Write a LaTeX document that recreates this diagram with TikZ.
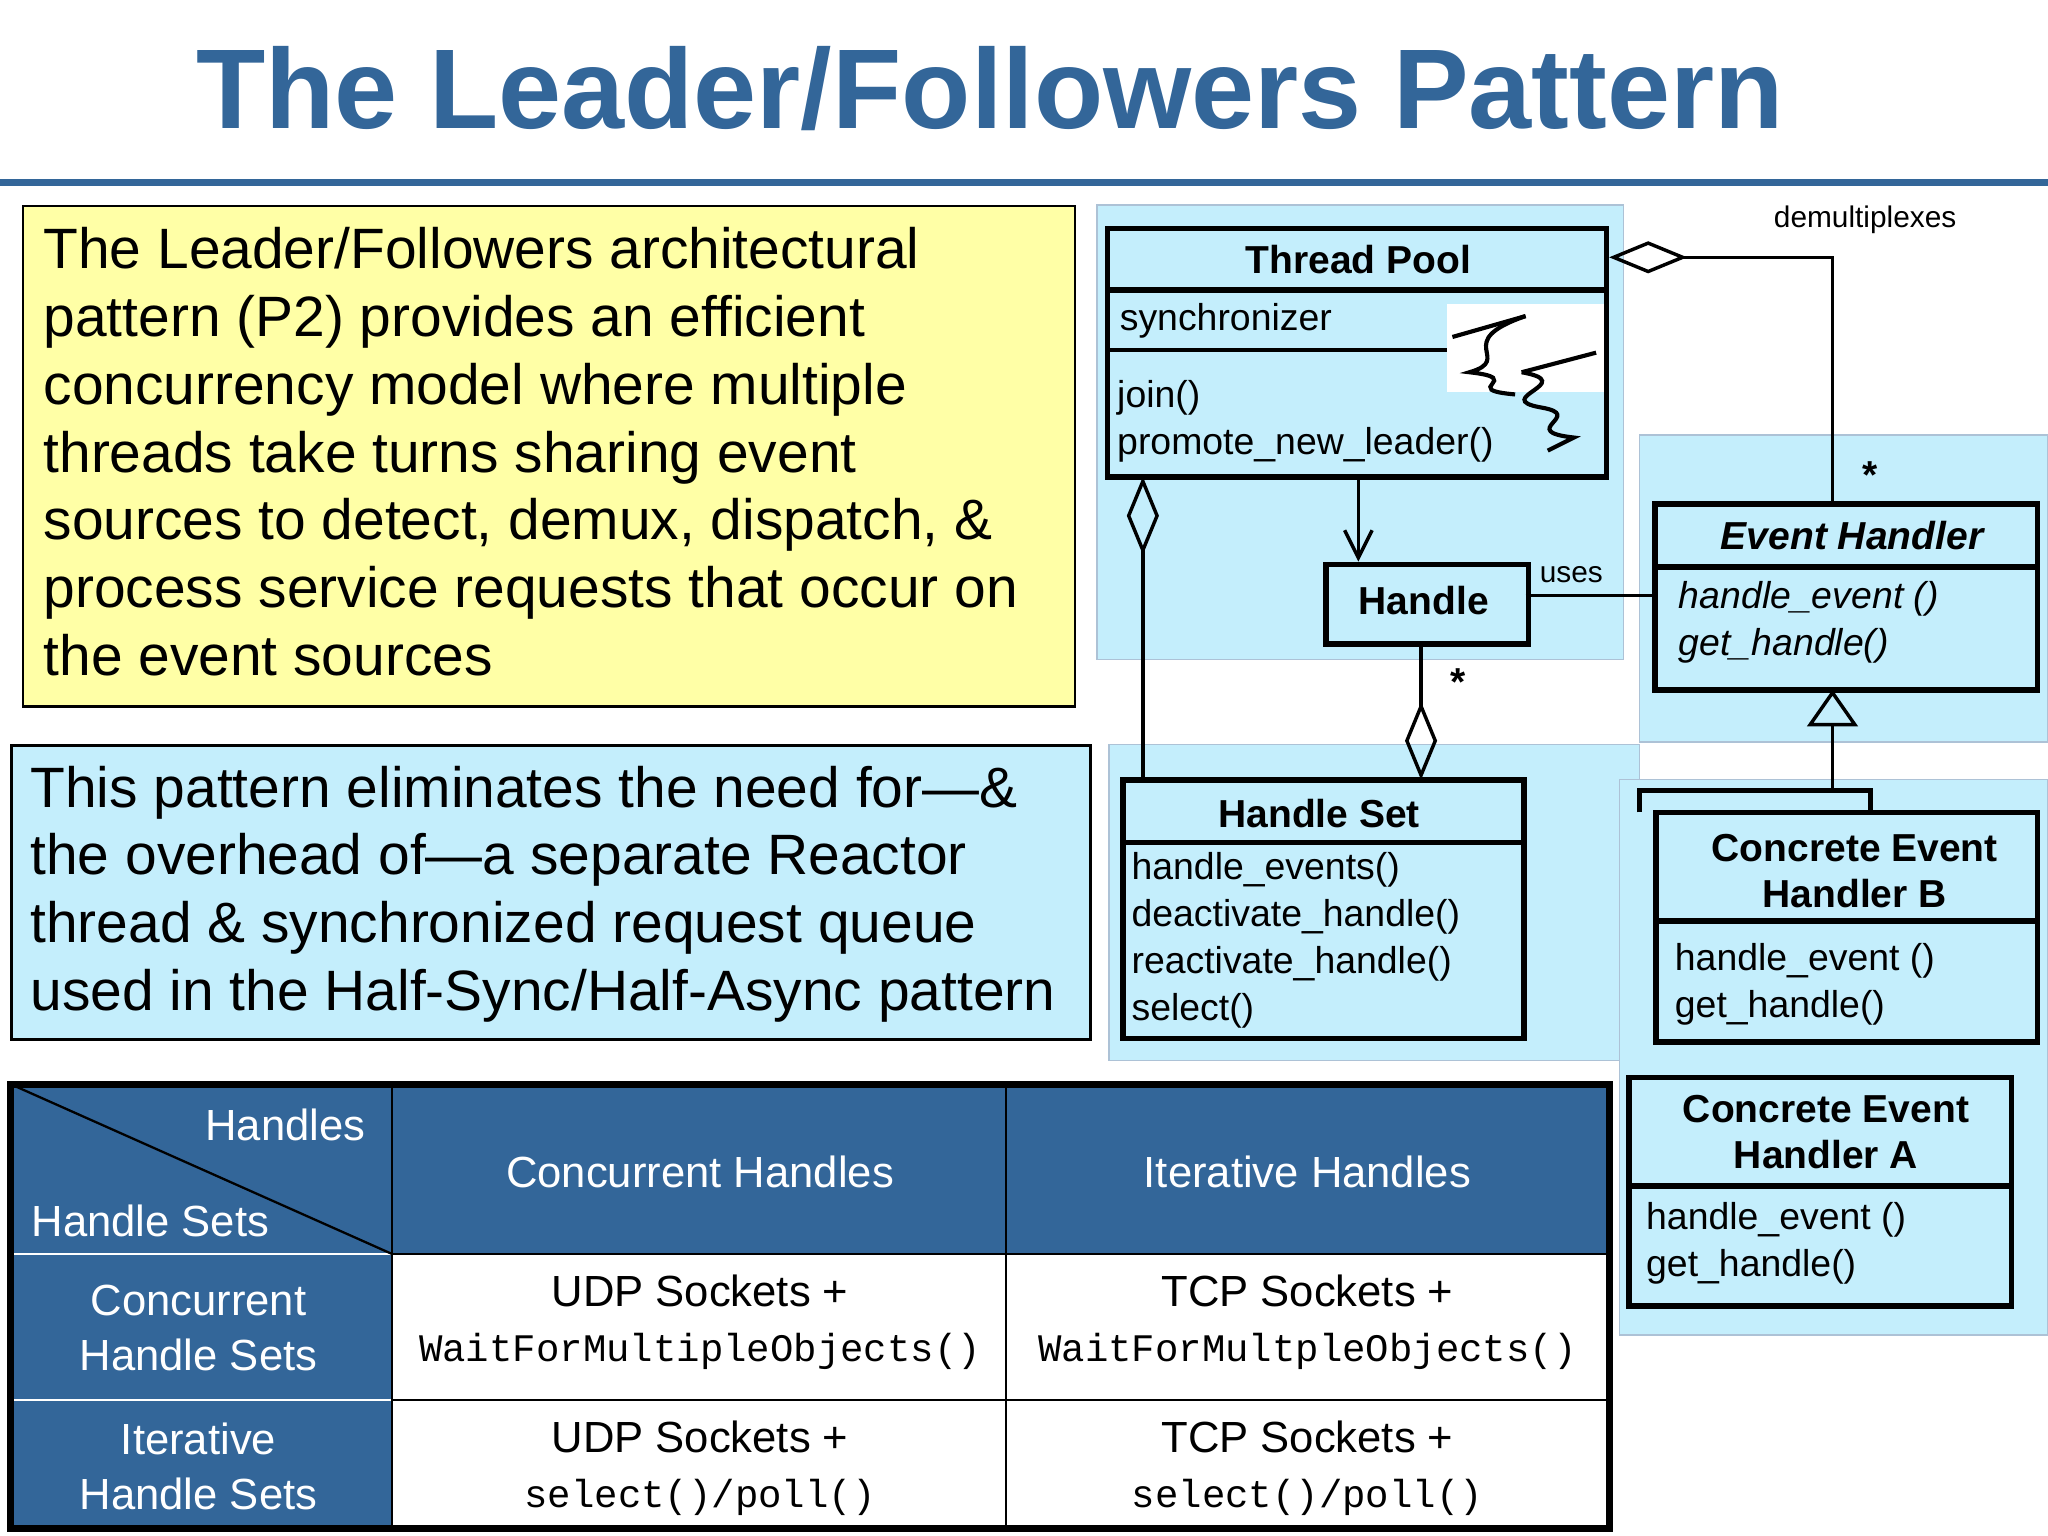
\documentclass[tikz,border=0pt]{standalone}
\usepackage{fontspec}
\setmainfont{Liberation Sans}
\setmonofont{Liberation Mono}
\usetikzlibrary{arrows.meta}
\definecolor{tblue}{HTML}{336699}
\definecolor{lcyan}{HTML}{C4EEFC}
\definecolor{lyel}{HTML}{FFFFA6}
\begin{document}
\begin{tikzpicture}[x=0.02cm,y=-0.02cm,
 cls/.style={draw=black,line width=2.5pt,fill=lcyan},
 bg/.style={draw=tblue!40,line width=0.6pt,fill=lcyan},
 ct/.style={font=\fontsize{17}{20}\selectfont\bfseries},
 mt/.style={font=\fontsize{16.3}{20.5}\selectfont,align=left,anchor=north west,inner sep=0pt},
 body/.style={font=\fontsize{24.8}{29.5}\selectfont,align=left,anchor=north west,inner sep=0pt},
 th/.style={font=\fontsize{19}{24}\selectfont,text=white,align=center},
 td/.style={font=\fontsize{19}{24}\selectfont,align=center},
 agg/.style={-{Diamond[open,length=34pt,width=14pt]},line width=1.5pt},
 ln/.style={line width=1.5pt}]
\useasboundingbox (0,0) rectangle (1568,1176);
\fill[white] (0,0) rectangle (1568,1176);
% title
\node[font=\fontsize{49.4}{50}\selectfont\bfseries,text=tblue] (title) at (758,68) {The Leader/Followers Pattern};
\draw[tblue,line width=3pt] (0,140) -- (1568,140);
% yellow box
\node[draw,fill=lyel,line width=1pt,minimum width=805*0.02cm,minimum height=383*0.02cm,anchor=north west] (ybox) at (17,157) {};
\node[body] (ytext) at (33,174) {The Leader/Followers architectural\\pattern (P2) provides an efficient\\concurrency model where multiple\\threads take turns sharing event\\sources to detect, demux, dispatch, \&\\process service requests that occur on\\the event sources};
% blue box
\node[draw,fill=lcyan,line width=1pt,minimum width=826*0.02cm,minimum height=225*0.02cm,anchor=north west] (cbox) at (8,570) {};
\node[body] (ctext) at (23,586) {This pattern eliminates the need for—\&\\the overhead of—a separate Reactor\\thread \& synchronized request queue\\used in the Half-Sync/Half-Async pattern};
% table
\fill[tblue] (8,830) rectangle (1232,960);
\fill[tblue] (8,960) rectangle (300,1170);
\draw[line width=1pt] (300,960) -- (1232,960) (300,1072) -- (1232,1072);
\draw[white,line width=1pt] (8,960) -- (300,960) (8,1072) -- (300,1072);
\draw[line width=1pt] (300,830) -- (300,1170) (770,830) -- (770,1170);
\draw[line width=1pt] (8,830) -- (300,960);
\draw[line width=3pt] (8,830) rectangle (1232,1170);
\node[th,anchor=east] (h1) at (286,861) {Handles};
\node[th,anchor=west] (h2) at (18,935) {Handle Sets};
\node[th] (h3) at (536,897) {Concurrent Handles};
\node[th] (h4) at (1001,897) {Iterative Handles};
\node[th] (r1) at (152,1017) {Concurrent\\Handle Sets};
\node[th] (r2) at (152,1123) {Iterative\\Handle Sets};
\node[td] (c11) at (536,1012) {UDP Sockets +\\{\ttfamily\fontsize{17}{24}\selectfont WaitForMultipleObjects()}};
\node[td] (c12) at (1001,1012) {TCP Sockets +\\{\ttfamily\fontsize{17}{24}\selectfont WaitForMultpleObjects()}};
\node[td] (c21) at (536,1124) {UDP Sockets +\\{\ttfamily\fontsize{17}{24}\selectfont select()/poll()}};
\node[td] (c22) at (1001,1124) {TCP Sockets +\\{\ttfamily\fontsize{17}{24}\selectfont select()/poll()}};
% UML backgrounds
\draw[bg] (840,157) rectangle (1243,505);
\draw[bg] (1255,333) rectangle (1568,568);
\draw[bg] (849,570) rectangle (1255,812);
\draw[bg] (1240,597) rectangle (1568,1022);
% Thread Pool
\draw[cls] (848,175) rectangle (1230,365);
\draw[line width=2.5pt] (848,222) -- (1230,222);
\draw[line width=2pt] (848,268) -- (1108,268);
\node[ct] (tp) at (1040,199) {Thread Pool};
\node[mt] (tpa) at (857,232) {synchronizer};
\node[mt] (tpm) at (855,291) {join()\\promote\_new\_leader()};
\fill[white] (1108,233) rectangle (1228,300);
\draw[line width=1.8pt] (1112,258) -- (1168,242);
\draw[line width=1.8pt] (1168,242) .. controls (1110,262) and (1160,275) .. (1125,285) .. controls (1170,290) and (1115,298) .. (1160,302);
\draw[line width=1.8pt] (1222,270) -- (1165,285);
\draw[line width=1.8pt] (1165,285) .. controls (1210,293) and (1140,305) .. (1180,312) .. controls (1215,318) and (1160,330) .. (1205,335) -- (1185,345);
% Handle
\node[cls,ct,minimum width=155*0.02cm,minimum height=61*0.02cm,anchor=north west] (hd) at (1013,430) {};
\node[ct] (hdt) at (1090,460) {Handle};
% Event Handler
\draw[cls] (1267,386) rectangle (1560,528);
\draw[line width=2.5pt] (1267,434) -- (1560,434);
\node[ct,font=\fontsize{17}{20}\selectfont\bfseries\itshape] (eh) at (1418,410) {Event Handler};
\node[mt,font=\fontsize{16.3}{20.5}\selectfont\itshape] (ehm) at (1285,445) {handle\_event ()\\get\_handle()};
% Handle Set
\draw[cls] (860,597) rectangle (1167,795);
\draw[line width=2.5pt] (860,645) -- (1167,645);
\node[ct] (hs) at (1010,623) {Handle Set};
\node[mt] (hsm) at (866,652) {handle\_events()\\deactivate\_handle()\\reactivate\_handle()\\select()};
% Concrete B
\draw[line width=2pt] (1255,622) -- (1255,605) -- (1432,605) -- (1432,622);
\draw[cls] (1268,622) rectangle (1560,798);
\draw[line width=2.5pt] (1268,705) -- (1560,705);
\node[ct,align=center] (cb) at (1420,667) {Concrete Event\\Handler B};
\node[mt] (cbm) at (1282,722) {handle\_event ()\\get\_handle()};
% Concrete A
\draw[cls] (1247,825) rectangle (1540,1000);
\draw[line width=2.5pt] (1247,908) -- (1540,908);
\node[ct,align=center] (ca) at (1398,867) {Concrete Event\\Handler A};
\node[mt] (cam) at (1260,920) {handle\_event ()\\get\_handle()};
% connectors
\coordinate (tpb) at (1040,365);
\coordinate (hdtop) at (1040,430);
\draw[ln,-{Straight Barb[length=12pt,width=12pt]}] (tpb) -- (hdtop);
\coordinate (hdr) at (1168,456);
\coordinate (ehl) at (1267,456);
\draw[line width=1pt] (hdr) -- (ehl);
\node[font=\fontsize{13}{15}\selectfont] (uses) at (1203,440) {uses};
\coordinate (tpr) at (1232,197);
\coordinate (eht) at (1403,386);
\draw[agg] (eht) -- (1403,197) -- (tpr);
\node[font=\fontsize{13}{15}\selectfont] (demux) at (1428,168) {demultiplexes};
\node[font=\fontsize{17}{17}\selectfont\bfseries] (s1) at (1432,364) {*};
\coordinate (hdb) at (1088,491);
\coordinate (hst) at (1088,597);
\draw[agg] (hdb) -- (hst);
\node[font=\fontsize{17}{17}\selectfont\bfseries] (s2) at (1116,522) {*};
\coordinate (tpbl) at (875,365);
\coordinate (hstl) at (875,597);
\draw[agg] (hstl) -- (tpbl);
\coordinate (ehb) at (1403,528);
\coordinate (inh) at (1403,605);
\draw[ln,-{Triangle[open,length=16pt,width=22pt]}] (inh) -- (ehb);
\end{tikzpicture}
\end{document}
